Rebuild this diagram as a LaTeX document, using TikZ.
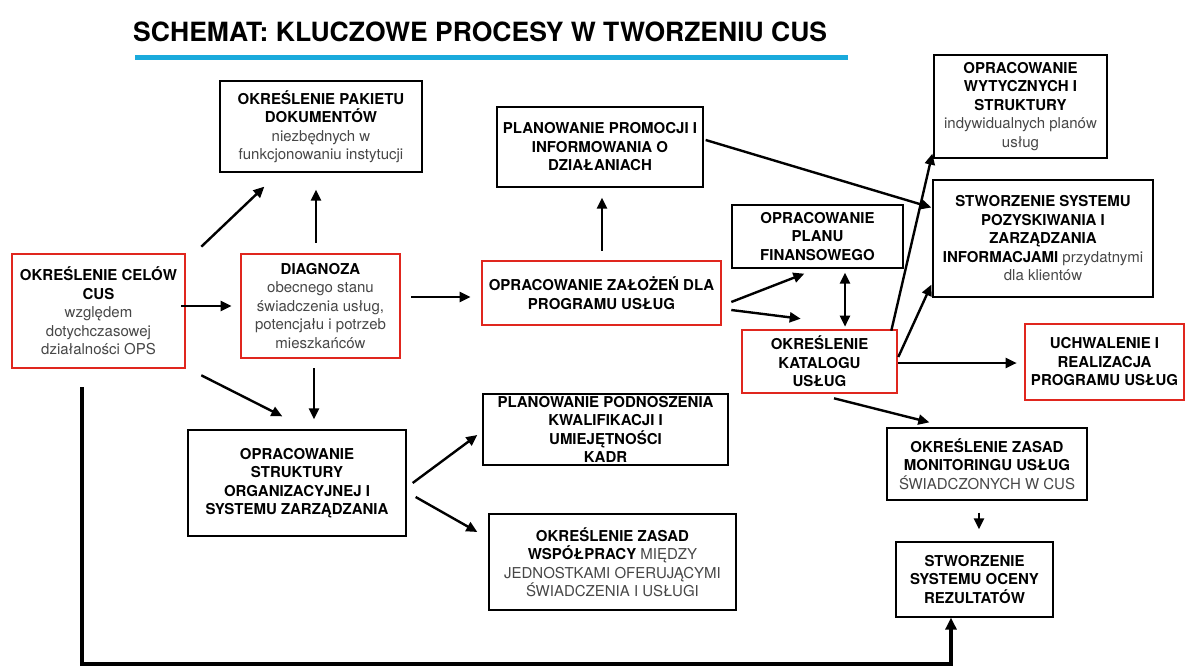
\documentclass[tikz,border=0pt]{standalone}
\usepackage{fontspec}
\setmainfont{TeX Gyre Heros}
\usetikzlibrary{arrows.meta}
\definecolor{boxred}{HTML}{E0261E}
\definecolor{titleblue}{HTML}{1AAADC}
\begin{document}
\begin{tikzpicture}[x=1pt,y=-1pt,
  box/.style={draw=black, line width=1.3pt, align=center, inner sep=0pt,
    font=\fontsize{15}{18.5}\selectfont},
  rbox/.style={box, draw=boxred, line width=2.6pt},
  arr/.style={line width=2.4pt, -{Triangle[length=11pt,width=10pt]}},
  darr/.style={line width=2.4pt, {Triangle[length=11pt,width=10pt]}-{Triangle[length=11pt,width=10pt]}},
  loop/.style={line width=3.8pt, -{Triangle[length=12pt,width=11pt]}},
  rg/.style={color=black!72}
]
\useasboundingbox[fill=white] (0,0) rectangle (1186,671);

% title
\node[anchor=base west, inner sep=0pt, font=\fontsize{26.5}{30}\selectfont\bfseries] (title) at (133,42)
  {SCHEMAT: KLUCZOWE PROCESY W TWORZENIU CUS};
\draw[titleblue, line width=5pt] (135,57.5) -- (848,57.5);

% boxes
\node[rbox, minimum width=173pt, minimum height=114pt] (A) at (98.5,311)
  {\textbf{OKREŚLENIE CELÓW}\\\textbf{CUS}\\{\color{black!72}względem}\\{\color{black!72}dotychczasowej}\\{\color{black!72}działalności OPS}};
\node[rbox, minimum width=159pt, minimum height=104pt] (diag) at (320.5,306)
  {\textbf{DIAGNOZA}\\{\color{black!72}obecnego stanu}\\{\color{black!72}świadczenia usług,}\\{\color{black!72}potencjału i potrzeb}\\{\color{black!72}mieszkańców}};
\node[box, minimum width=202pt, minimum height=91pt] (pak) at (321,126.5)
  {\textbf{OKREŚLENIE PAKIETU}\\\textbf{DOKUMENTÓW}\\{\color{black!72}niezbędnych w}\\{\color{black!72}funkcjonowaniu instytucji}};
\node[box, minimum width=206pt, minimum height=80pt, font=\fontsize{15}{18.5}\selectfont\bfseries] (prom) at (600,147)
  {PLANOWANIE PROMOCJI I\\INFORMOWANIA O\\DZIAŁANIACH};
\node[rbox, minimum width=239pt, minimum height=64pt, font=\fontsize{15}{18.5}\selectfont\bfseries] (zal) at (601.5,293)
  {OPRACOWANIE ZAŁOŻEŃ DLA\\PROGRAMU USŁUG};
\node[box, minimum width=171pt, minimum height=63pt, font=\fontsize{15}{18.5}\selectfont\bfseries] (fin) at (817.5,236.5)
  {OPRACOWANIE\\PLANU\\FINANSOWEGO};
\node[rbox, minimum width=155pt, minimum height=63pt, font=\fontsize{15}{18.5}\selectfont\bfseries] (kat) at (819.5,361.5)
  {OKREŚLENIE\\KATALOGU\\USŁUG};
\node[box, minimum width=173pt, minimum height=103pt] (wyt) at (1020.5,106.5)
  {\textbf{OPRACOWANIE}\\\textbf{WYTYCZNYCH I}\\\textbf{STRUKTURY}\\{\color{black!72}indywidualnych planów}\\{\color{black!72}usług}};
\node[box, minimum width=220pt, minimum height=117pt] (poz) at (1043,238.5)
  {\textbf{STWORZENIE SYSTEMU}\\\textbf{POZYSKIWANIA I}\\\textbf{ZARZĄDZANIA}\\\textbf{INFORMACJAMI} {\color{black!72}przydatnymi}\\{\color{black!72}dla klientów}};
\node[rbox, minimum width=159pt, minimum height=76pt, font=\fontsize{15}{18.5}\selectfont\bfseries] (uch) at (1104.5,362)
  {UCHWALENIE I\\REALIZACJA\\PROGRAMU USŁUG};
\node[box, minimum width=218pt, minimum height=106pt, font=\fontsize{15}{18.5}\selectfont\bfseries] (str) at (297,483)
  {OPRACOWANIE\\STRUKTURY\\ORGANIZACYJNEJ I\\SYSTEMU ZARZĄDZANIA};
\node[box, minimum width=245pt, minimum height=71pt, font=\fontsize{15}{18.5}\selectfont\bfseries] (pod) at (605.5,429.5)
  {PLANOWANIE PODNOSZENIA\\KWALIFIKACJI I\\UMIEJĘTNOŚCI\\KADR};
\node[box, minimum width=247pt, minimum height=96pt] (wsp) at (612.5,562)
  {\textbf{OKREŚLENIE ZASAD}\\\textbf{WSPÓŁPRACY} {\color{black!72}MIĘDZY}\\{\color{black!72}JEDNOSTKAMI OFERUJĄCYMI}\\{\color{black!72}ŚWIADCZENIA I USŁUGI}};
\node[box, minimum width=200pt, minimum height=72pt] (mon) at (987,464)
  {\textbf{OKREŚLENIE ZASAD}\\\textbf{MONITORINGU USŁUG}\\{\color{black!72}ŚWIADCZONYCH W CUS}};
\node[box, minimum width=157pt, minimum height=75pt, font=\fontsize{15}{18.5}\selectfont\bfseries] (oc) at (974.5,579.5)
  {STWORZENIE\\SYSTEMU OCENY\\REZULTATÓW};

% connectors
\draw[arr] ([shift={(15,-6)}]A.north east) -- ([shift={(45,14)}]pak.south west);
\draw[arr] ([shift={(-5,-5)}]A.east) -- ([shift={(-8,0)}]diag.west);
\draw[arr] ([shift={(15,6)}]A.south east) -- ([shift={(95,-13)}]str.north west);
\draw[arr] ([shift={(-4.5,-10)}]diag.north) -- ([shift={(-5,17)}]pak.south);
\draw[arr] ([shift={(-6.5,9)}]diag.south) -- ([shift={(17,-10)}]str.north);
\draw[arr] ([shift={(10,-9)}]diag.east) -- ([shift={(-10,4)}]zal.west);
\draw[arr] ([shift={(0.5,-9)}]zal.north) -- ([shift={(2,10)}]prom.south);
\draw[arr] ([shift={(2,-7)}]prom.east) -- ([shift={(-1,-31)}]poz.west);
\draw[arr] ([shift={(9,9)}]zal.east) -- ([shift={(73,5)}]fin.south west);
\draw[arr] ([shift={(9,17)}]zal.east) -- ([shift={(60,-10)}]kat.north west);
\draw[darr] ([shift={(27.5,4)}]fin.south) -- ([shift={(25.5,-2)}]kat.north);
\draw[arr] ([shift={(-7,2)}]kat.north east) -- ([shift={(-1,-5)}]wyt.south west);
\draw[arr] ([shift={(0,-4.5)}]kat.east) -- ([shift={(-1,-13)}]poz.south west);
\draw[arr] ([shift={(0,1.5)}]kat.east) -- ([shift={(-7,1)}]uch.west);
\draw[arr] ([shift={(14.5,4)}]kat.south) -- ([shift={(43,-5)}]mon.north west);
\draw[arr] ([shift={(-8,12)}]mon.south) -- ([shift={(4.5,-12)}]oc.north);
\draw[arr] ([shift={(6,0)}]str.east) -- ([shift={(-5,5.5)}]pod.west);
\draw[arr] ([shift={(9,14)}]str.east) -- ([shift={(-11,-30)}]wsp.west);
\draw[loop] ([shift={(-16.5,18)}]A.south) |- ([shift={(-23.5,46)}]oc.south) -- ([shift={(-23.5,0)}]oc.south);
\end{tikzpicture}
\end{document}
